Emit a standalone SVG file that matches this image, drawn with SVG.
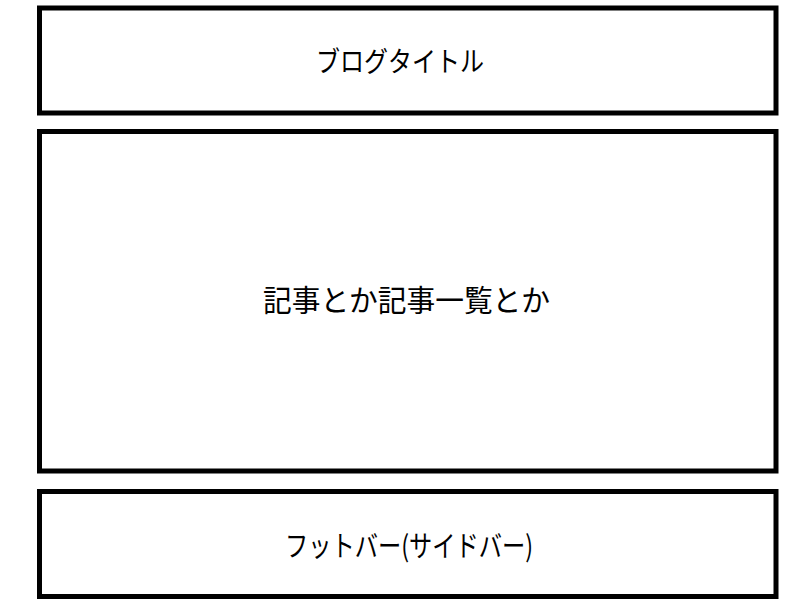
<svg xmlns="http://www.w3.org/2000/svg" width="800" height="600" viewBox="0 0 800 600">
<style>
.box{fill:#fff;stroke:#000;stroke-width:5}
.lbl{font-family:"Noto Sans CJK JP","Noto Sans",sans-serif;fill:#000;text-anchor:middle;dominant-baseline:central}
</style>
<rect width="800" height="600" fill="#fff"/>
<g id="header">
<rect class="box" x="39.5" y="8" width="736.5" height="105"/>
<text class="lbl" x="400" y="60" font-size="28" textLength="168" lengthAdjust="spacingAndGlyphs">ブログタイトル</text>
</g>
<g id="main">
<rect class="box" x="39.5" y="131.5" width="736.5" height="339.5"/>
<text class="lbl" x="406.5" y="298" font-size="30" textLength="287" lengthAdjust="spacingAndGlyphs">記事とか記事一覧とか</text>
</g>
<g id="footer">
<rect class="box" x="39.5" y="491.5" width="736.5" height="105"/>
<text class="lbl" x="409" y="544" font-size="29" textLength="248" lengthAdjust="spacingAndGlyphs">フットバー(サイドバー)</text>
</g>
<g id="connectors"></g>
</svg>
